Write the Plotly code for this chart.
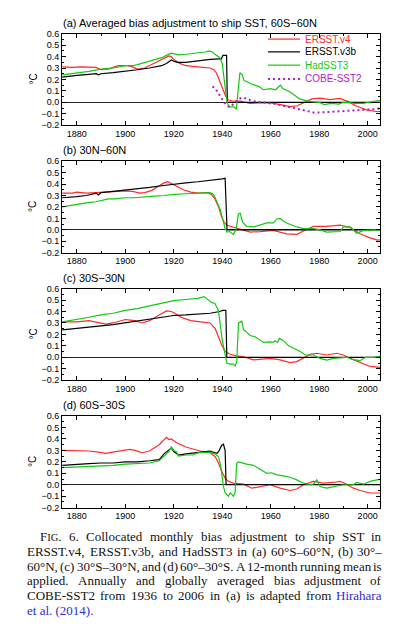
import plotly.graph_objects as go

W, H = 399, 640

# ---------------- data ----------------
# Panel (a) 60S-60N
a_v4_yr = [1874, 1878, 1882, 1886, 1888, 1890, 1893, 1897, 1901, 1903, 1905, 1908, 1910, 1914, 1916, 1918, 1919, 1920, 1922, 1925, 1930, 1935, 1936.5, 1937.5, 1938.5, 1939.5, 1940.5, 1941.5, 1942.5, 1944, 1947.5, 1951.5, 1955.5, 1960, 1964, 1968, 1971, 1973.5, 1977, 1980.5, 1984.5, 1988.5, 1992, 1995.5, 1999.5, 2003.5, 2006]
a_v4_val = [0.31, 0.305, 0.31, 0.31, 0.305, 0.285, 0.29, 0.32, 0.32, 0.31, 0.29, 0.30, 0.32, 0.36, 0.385, 0.405, 0.40, 0.375, 0.345, 0.32, 0.31, 0.30, 0.285, 0.26, 0.21, 0.16, 0.10, 0.05, 0.02, 0.014, 0.01, -0.01, -0.005, -0.005, -0.02, -0.037, -0.03, -0.005, 0.03, 0.037, 0.023, 0.034, 0.006, -0.034, -0.066, -0.08, -0.08]
a_v3b_yr = [1874, 1877, 1880, 1885, 1888, 1889, 1890, 1895, 1900, 1905, 1910, 1915, 1917, 1919, 1920, 1921.5, 1925, 1930, 1935, 1939, 1939.7, 1940.3, 1941.8, 1942.1, 1950, 2006]
a_v3b_val = [0.22, 0.225, 0.235, 0.245, 0.25, 0.24, 0.25, 0.26, 0.27, 0.285, 0.30, 0.32, 0.34, 0.37, 0.36, 0.35, 0.35, 0.365, 0.375, 0.38, 0.38, 0.41, 0.41, 0.0, 0.0, 0.0]
a_had_yr = [1874, 1880, 1885, 1890, 1895, 1900, 1903, 1905, 1910, 1915, 1917, 1919, 1920, 1922, 1925, 1930, 1933, 1934.5, 1936, 1937, 1939, 1940, 1940.7, 1941.5, 1942.2, 1943, 1944.8, 1945.8, 1946.5, 1947.3, 1948.3, 1949, 1950.3, 1952, 1955, 1957, 1960, 1962, 1963, 1964, 1965, 1966, 1968, 1970, 1972, 1975, 1978, 1980, 1982, 1985, 1988, 1990, 1993, 1995, 1998, 2000, 2003, 2006]
a_had_val = [0.24, 0.255, 0.27, 0.29, 0.30, 0.32, 0.32, 0.33, 0.36, 0.39, 0.41, 0.43, 0.425, 0.415, 0.42, 0.43, 0.44, 0.45, 0.44, 0.42, 0.39, 0.34, 0.2, 0.08, -0.01, -0.04, -0.04, -0.06, 0.09, 0.26, 0.24, 0.19, 0.18, 0.16, 0.14, 0.11, 0.12, 0.11, 0.13, 0.15, 0.12, 0.11, 0.09, 0.06, 0.03, 0.01, 0.005, 0.0, -0.02, -0.01, -0.015, 0.0, -0.005, -0.01, -0.01, 0.0, 0.01, 0.02]
cobe_yr = list(range(1936, 2007))
cobe_val = [0.14, 0.12, 0.095, 0.06, 0.025, -0.005, -0.03, -0.04, -0.025, -0.01, 0.01, 0.03, 0.04, 0.04, 0.03, 0.02, 0.015, 0.01, 0.005, 0.0,
            0.0, 0.0, -0.005, -0.005, -0.01, -0.01, -0.015, -0.02, -0.025, -0.03, -0.035, -0.04, -0.045, -0.05, -0.055, -0.06, -0.065, -0.07, -0.075, -0.08,
            -0.085, -0.088, -0.09, -0.09, -0.088, -0.087, -0.086, -0.085, -0.084, -0.083, -0.082, -0.08, -0.079, -0.078, -0.077, -0.076, -0.075, -0.074, -0.073, -0.072,
            -0.071, -0.07, -0.069, -0.068, -0.067, -0.066, -0.065, -0.063, -0.058, -0.05, -0.04]

# Panel (b) 30N-60N
b_v4_yr = [1874, 1878, 1880, 1884, 1888, 1892, 1896, 1900, 1903, 1906, 1908, 1911, 1914, 1916, 1917.5, 1919, 1921, 1924, 1927, 1930, 1934, 1935.5, 1937, 1938.5, 1939.8, 1940.8, 1942, 1944.6, 1947.4, 1951.5, 1955.6, 1961, 1966.6, 1970.8, 1973.5, 1977.6, 1983, 1988.6, 1992.8, 1996.9, 2001, 2004, 2006]
b_v4_val = [0.32, 0.32, 0.33, 0.32, 0.325, 0.33, 0.335, 0.34, 0.335, 0.32, 0.325, 0.345, 0.385, 0.41, 0.42, 0.405, 0.38, 0.35, 0.33, 0.32, 0.325, 0.31, 0.27, 0.2, 0.11, 0.065, 0.04, 0.025, 0.01, -0.02, -0.015, -0.005, -0.035, -0.04, -0.01, 0.03, 0.03, 0.04, 0.02, -0.035, -0.07, -0.09, -0.085]
b_v3b_yr = [1874, 1878, 1880, 1884, 1888, 1889, 1890, 1895, 1900, 1905, 1910, 1915, 1920, 1925, 1930, 1935, 1940, 1941.2, 1942.0, 1950, 2006]
b_v3b_val = [0.28, 0.285, 0.29, 0.30, 0.32, 0.305, 0.325, 0.335, 0.345, 0.36, 0.37, 0.385, 0.40, 0.41, 0.42, 0.43, 0.445, 0.45, 0.0, 0.0, 0.0]
b_had_yr = [1874, 1878, 1880, 1884, 1888, 1890, 1893, 1896, 1900, 1904, 1908, 1912, 1916, 1920, 1925, 1930, 1935, 1936.5, 1937.8, 1939.1, 1940.2, 1941.2, 1941.9, 1943, 1944.6, 1945.7, 1946.7, 1947.4, 1948.5, 1950.1, 1952.9, 1955.6, 1958.4, 1961.1, 1962.5, 1964, 1965, 1966.6, 1970.8, 1973.5, 1977.6, 1980.4, 1983, 1988.6, 1990, 1992.8, 1995.5, 1998.3, 2002, 2006]
b_had_val = [0.20, 0.215, 0.225, 0.235, 0.245, 0.255, 0.27, 0.27, 0.28, 0.28, 0.29, 0.295, 0.30, 0.31, 0.315, 0.32, 0.325, 0.31, 0.25, 0.18, 0.095, 0.01, -0.02, -0.015, -0.04, 0.0, 0.14, 0.145, 0.065, 0.03, 0.025, 0.04, 0.06, 0.06, 0.095, 0.10, 0.08, 0.06, 0.025, 0.01, 0.01, 0.0, -0.02, -0.015, 0.025, 0.025, -0.03, -0.005, 0.0, 0.0]

# Panel (c) 30S-30N
c_v4_yr = [1874, 1880, 1885, 1888, 1892, 1895, 1900, 1902, 1904, 1907, 1910, 1914, 1917, 1919, 1920, 1923, 1927, 1931, 1935, 1937.1, 1938.4, 1939.8, 1941.2, 1943.3, 1946, 1948.8, 1952.9, 1955.6, 1959.8, 1963.9, 1968, 1970.8, 1973.5, 1976.3, 1979, 1983.1, 1987.3, 1990, 1992.8, 1996.9, 2001, 2006]
c_v4_val = [0.31, 0.31, 0.32, 0.31, 0.29, 0.30, 0.33, 0.325, 0.32, 0.30, 0.32, 0.37, 0.405, 0.40, 0.39, 0.35, 0.32, 0.31, 0.30, 0.25, 0.18, 0.107, 0.05, 0.026, 0.012, 0.005, -0.023, -0.017, -0.01, -0.023, -0.046, -0.038, -0.01, 0.026, 0.035, 0.02, 0.035, 0.02, -0.01, -0.046, -0.08, -0.09]
c_v3b_yr = [1874, 1880, 1885, 1890, 1895, 1900, 1905, 1910, 1915, 1920, 1925, 1930, 1935, 1939, 1940.2, 1941.5, 1941.9, 1950, 2006]
c_v3b_val = [0.24, 0.255, 0.265, 0.275, 0.285, 0.30, 0.315, 0.33, 0.345, 0.365, 0.37, 0.375, 0.385, 0.40, 0.41, 0.41, 0.0, 0.0, 0.0]
c_had_yr = [1874, 1880, 1885, 1890, 1895, 1900, 1905, 1910, 1915, 1920, 1925, 1930, 1932.5, 1934.3, 1935.6, 1937, 1938.4, 1939, 1939.8, 1940.8, 1941.9, 1943.3, 1944.6, 1945.3, 1946, 1946.7, 1947.4, 1948.1, 1948.8, 1950.1, 1951.5, 1953.6, 1955.6, 1957, 1959.8, 1961.1, 1961.8, 1962.8, 1963.6, 1965.3, 1967.4, 1969.4, 1972.2, 1974.3, 1977.6, 1980.4, 1983.1, 1985.9, 1991.4, 1994.1, 1996.9, 1999, 2002.4, 2006]
c_had_val = [0.31, 0.335, 0.35, 0.37, 0.385, 0.41, 0.425, 0.45, 0.47, 0.495, 0.505, 0.515, 0.53, 0.50, 0.48, 0.47, 0.41, 0.32, 0.18, 0.064, -0.05, -0.06, -0.06, -0.075, -0.04, 0.30, 0.31, 0.315, 0.24, 0.22, 0.19, 0.18, 0.15, 0.13, 0.135, 0.13, 0.145, 0.13, 0.165, 0.145, 0.10, 0.08, 0.05, 0.02, 0.02, -0.01, -0.025, -0.01, 0.0, -0.02, -0.03, 0.0, 0.0, 0.01]

# Panel (d) 60S-30S
d_v4_yr = [1874, 1880, 1885, 1889, 1892, 1896, 1900, 1902, 1904, 1907, 1910, 1914, 1917, 1918, 1919, 1921, 1925, 1930.9, 1935, 1937.1, 1938.5, 1939.8, 1941.2, 1942.6, 1944.6, 1948.8, 1952.2, 1955.6, 1959.8, 1963.9, 1968, 1970.8, 1973.5, 1977.6, 1981.7, 1985.9, 1988.6, 1991.4, 1994.1, 1996.9, 2001, 2006]
d_v4_val = [0.30, 0.30, 0.295, 0.285, 0.275, 0.29, 0.305, 0.31, 0.30, 0.28, 0.295, 0.35, 0.415, 0.395, 0.40, 0.37, 0.33, 0.295, 0.28, 0.245, 0.19, 0.115, 0.058, 0.03, 0.015, 0.005, -0.03, -0.015, 0.0, -0.03, -0.05, -0.037, 0.0, 0.03, 0.015, 0.02, 0.03, 0.005, -0.03, -0.05, -0.072, -0.072]
d_v3b_yr = [1874, 1880, 1885, 1890, 1895, 1900, 1905, 1910, 1914, 1916, 1918, 1919, 1920, 1922, 1925, 1930, 1935, 1937.1, 1937.8, 1938.5, 1939.1, 1939.8, 1940.5, 1941.2, 1941.6, 2006]
d_v3b_val = [0.17, 0.18, 0.185, 0.19, 0.19, 0.20, 0.20, 0.21, 0.22, 0.27, 0.30, 0.32, 0.29, 0.26, 0.27, 0.28, 0.294, 0.28, 0.275, 0.29, 0.317, 0.346, 0.354, 0.30, 0.0, 0.0]
d_had_yr = [1874, 1880, 1885, 1890, 1895, 1900, 1905, 1910, 1914, 1916, 1918, 1919, 1920, 1921, 1922, 1925, 1928, 1930, 1935, 1937, 1938.5, 1939.4, 1940.5, 1941.2, 1942.6, 1943.3, 1943.9, 1944.6, 1945.3, 1946, 1946.7, 1948.1, 1950.1, 1952.9, 1955, 1957, 1958.4, 1960.4, 1962.5, 1965.3, 1968, 1970.8, 1973.5, 1976.3, 1977.6, 1979, 1980.4, 1983.1, 1985.9, 1990, 1994.1, 1995.5, 1998.3, 2001, 2003.8, 2006]
d_had_val = [0.15, 0.155, 0.16, 0.165, 0.17, 0.18, 0.185, 0.19, 0.21, 0.25, 0.29, 0.33, 0.30, 0.29, 0.25, 0.26, 0.26, 0.28, 0.285, 0.27, 0.245, 0.16, -0.015, -0.07, -0.1, -0.07, -0.085, -0.1, -0.07, 0.19, 0.20, 0.19, 0.18, 0.17, 0.145, 0.115, 0.10, 0.105, 0.086, 0.078, 0.066, 0.043, 0.014, 0.0, 0.005, 0.043, -0.015, -0.03, -0.02, 0.0, 0.0, 0.02, 0.005, 0.03, 0.043, 0.05]

panel_titles = ["(a) Averaged bias adjustment to ship SST, 60S\u221260N",
                "(b) 30N\u221260N", "(c) 30S\u221230N", "(d) 60S\u221230S"]
series_names = ["ERSST.v4", "ERSST.v3b", "HadSST3", "COBE-SST2"]
x_tick_vals = [1880, 1900, 1920, 1940, 1960, 1980, 2000]
y_tick_vals = [-0.2, -0.1, 0.0, 0.1, 0.2, 0.3, 0.4, 0.5, 0.6]

# ---------------- style ----------------
RED, BLACK, GREEN, PURPLE = "#ff2a2a", "#000000", "#12c812", "#b01cc8"
SANS = "Liberation Sans, Arial, sans-serif"
SERIF = "Liberation Serif, Times New Roman, serif"

# the page body adds an 8 px margin; target positions below are page pixels
PAGE_OFF = 8
X0, X1 = 62, 380
TOPS = [29, 158.5, 288, 417.5]
PH = 93


def px(x):
    return (x - PAGE_OFF) / W


def py(y):
    return 1 - (y - PAGE_OFF) / H


panels = [
    (a_v4_yr, a_v4_val, a_v3b_yr, a_v3b_val, a_had_yr, a_had_val),
    (b_v4_yr, b_v4_val, b_v3b_yr, b_v3b_val, b_had_yr, b_had_val),
    (c_v4_yr, c_v4_val, c_v3b_yr, c_v3b_val, c_had_yr, c_had_val),
    (d_v4_yr, d_v4_val, d_v3b_yr, d_v3b_val, d_had_yr, d_had_val),
]
for p in panels:
    for k in range(0, 6, 2):
        assert len(p[k]) == len(p[k + 1]), (len(p[k]), len(p[k + 1]))
assert len(cobe_yr) == len(cobe_val)

fig = go.Figure()
annotations = []
shapes = []
layout = {}

for i, p in enumerate(panels):
    n = i + 1
    xa = "x" if n == 1 else f"x{n}"
    ya = "y" if n == 1 else f"y{n}"
    colors = [RED, BLACK, GREEN]
    for k in range(3):
        fig.add_trace(go.Scatter(x=p[2 * k], y=p[2 * k + 1], mode="lines",
                                 line=dict(color=colors[k], width=1.2),
                                 name=series_names[k], showlegend=False,
                                 xaxis=xa, yaxis=ya))
    if n == 1:
        fig.add_trace(go.Scatter(x=cobe_yr, y=cobe_val, mode="lines",
                                 line=dict(color=PURPLE, width=2, dash="2px,3px"),
                                 name=series_names[3], showlegend=False,
                                 xaxis=xa, yaxis=ya))
    top = TOPS[i]
    layout["xaxis" if n == 1 else f"xaxis{n}"] = dict(
        domain=[px(X0), px(X1)], range=[1873.9, 2005.1], anchor=ya,
        tickvals=x_tick_vals, ticks="inside", ticklen=4, tickcolor="black",
        showline=True, linecolor="black", linewidth=1, mirror="ticks",
        showgrid=False, zeroline=False,
        tickfont=dict(family=SANS, size=9, color="black"),
        minor=dict(dtick=10, tick0=1870, ticks="inside", ticklen=2, tickcolor="black", showgrid=False),
    )
    layout["yaxis" if n == 1 else f"yaxis{n}"] = dict(
        domain=[py(top + PH), py(top)], range=[-0.2, 0.6], anchor=xa,
        tickvals=y_tick_vals, tickformat=".1f", ticks="inside", ticklen=4, tickcolor="black",
        showline=True, linecolor="black", linewidth=1, mirror="ticks",
        showgrid=False, zeroline=True, zerolinecolor="#222222", zerolinewidth=1,
        tickfont=dict(family=SANS, size=9, color="black"),
        minor=dict(dtick=0.05, ticks="inside", ticklen=2, tickcolor="black", showgrid=False),
    )
    annotations.append(dict(text=panel_titles[i], xref="paper", yref="paper",
                            x=px(X0 - 1), y=py(top - 11), xanchor="left", yanchor="middle",
                            showarrow=False, font=dict(family=SANS, size=11, color="black")))
    annotations.append(dict(text="\u00b0C", xref="paper", yref="paper",
                            x=px(33), y=py(top + PH / 2), xanchor="center", yanchor="middle",
                            textangle=-90, showarrow=False,
                            font=dict(family=SANS, size=10, color="black")))

# manual legend in panel (a)
leg_rows = [34.5, 47.5, 61, 75]
leg_cols = [RED, BLACK, GREEN, PURPLE]
for r, (yy, col, name) in enumerate(zip(leg_rows, leg_cols, series_names)):
    line_style = dict(color=col, width=1.2)
    if r == 3:
        line_style = dict(color=col, width=2, dash="2px,3px")
    shapes.append(dict(type="line", xref="paper", yref="paper",
                       x0=px(268), x1=px(300), y0=py(yy), y1=py(yy), line=line_style))
    annotations.append(dict(text=name, xref="paper", yref="paper", x=px(303), y=py(yy),
                            xanchor="left", yanchor="middle", showarrow=False,
                            font=dict(family=SANS, size=10, color=col)))

# ---------------- caption (justified, Times metrics) ----------------
TW = {' ': 250, 'a': 444, 'b': 500, 'c': 444, 'd': 500, 'e': 444, 'f': 333, 'g': 500, 'h': 500,
      'i': 278, 'j': 278, 'k': 500, 'l': 278, 'm': 778, 'n': 500, 'o': 500, 'p': 500, 'q': 500,
      'r': 333, 's': 389, 't': 278, 'u': 500, 'v': 500, 'w': 722, 'x': 500, 'y': 500, 'z': 444,
      'A': 722, 'B': 667, 'C': 667, 'D': 722, 'E': 611, 'F': 556, 'G': 722, 'H': 722, 'I': 333,
      'J': 389, 'K': 722, 'L': 611, 'M': 889, 'N': 722, 'O': 722, 'P': 556, 'Q': 722, 'R': 667,
      'S': 556, 'T': 611, 'U': 722, 'V': 722, 'W': 944, 'X': 722, 'Y': 722, 'Z': 611,
      '.': 250, ',': 250, '(': 333, ')': 333, '-': 333, '\u2013': 500, '\u00b0': 400}
for dgt in "0123456789":
    TW[dgt] = 500

CAP_FS = 13
BLUE = "#2c2cd2"
cap_lines = [
    (40, True, [("F<span style='font-size:10.5px'>IG</span>.", "FIG.", None), ("6.", None, None), ("Collocated", None, None),
                ("monthly", None, None), ("bias", None, None), ("adjustment", None, None), ("to", None, None),
                ("ship", None, None), ("SST", None, None), ("in", None, None)]),
    (27, True, [("ERSST.v4,", None, None), ("ERSST.v3b,", None, None), ("and", None, None), ("HadSST3", None, None),
                ("in", None, None), ("(a)", None, None), ("60\u00b0S\u201360\u00b0N,", None, None), ("(b)", None, None),
                ("30\u00b0\u2013", None, None)]),
    (27, True, [("60\u00b0N,", None, None), ("(c)", None, None), ("30\u00b0S\u201330\u00b0N,", None, None), ("and", None, None),
                ("(d)", None, None), ("60\u00b0\u201330\u00b0S.", None, None), ("A", None, None), ("12-month", None, None),
                ("running", None, None), ("mean", None, None), ("is", None, None)]),
    (27, True, [("applied.", None, None), ("Annually", None, None), ("and", None, None), ("globally", None, None),
                ("averaged", None, None), ("bias", None, None), ("adjustment", None, None), ("of", None, None)]),
    (27, True, [("COBE-SST2", None, None), ("from", None, None), ("1936", None, None), ("to", None, None), ("2006", None, None),
                ("in", None, None), ("(a)", None, None), ("is", None, None), ("adapted", None, None), ("from", None, None),
                ("Hirahara", None, BLUE)]),
    (27, False, [("et al. (2014).", None, BLUE)]),
]
CAP_RIGHT = 382
for li, (x_start, justify, words) in enumerate(cap_lines):
    yy = 540 + 15.0 * li
    widths = []
    for txt, meas, col in words:
        m = meas if meas is not None else txt
        wsum = sum(TW.get(ch, 500) for ch in m)
        if txt.startswith("F<span"):
            wsum = 556 + 0.8 * (333 + 722) + 250
        widths.append(wsum * CAP_FS / 1000)
    if justify and len(words) > 1:
        gap = (CAP_RIGHT - x_start - sum(widths)) / (len(words) - 1)
    else:
        gap = 250 * CAP_FS / 1000
    xcur = x_start
    for wi, ((txt, meas, col), wd) in enumerate(zip(words, widths)):
        last = justify and wi == len(words) - 1 and len(words) > 1
        annotations.append(dict(text=txt, xref="paper", yref="paper",
                                x=px(CAP_RIGHT if last else xcur), y=py(yy),
                                xanchor="right" if last else "left", yanchor="middle",
                                showarrow=False, borderpad=0, borderwidth=0,
                                font=dict(family=SERIF, size=CAP_FS, color=col or "#111111")))
        xcur += wd + gap

fig.update_layout(
    width=W, height=H, margin=dict(l=0, r=0, t=0, b=0),
    paper_bgcolor="white", plot_bgcolor="white",
    showlegend=False, annotations=annotations, shapes=shapes,
    **layout,
)

fig.write_html("out.html")
